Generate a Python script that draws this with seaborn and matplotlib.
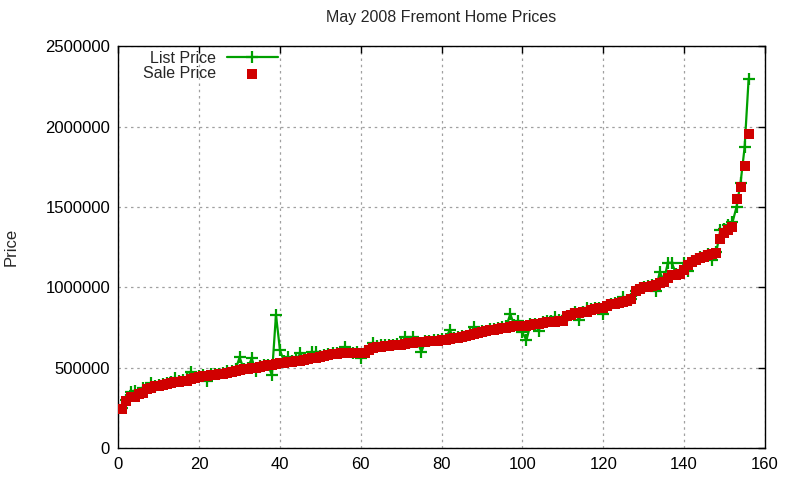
import numpy as np
import pandas as pd
import matplotlib
matplotlib.use("Agg")
import matplotlib.pyplot as plt
import seaborn as sns

# ---- data ----
sale_price = [
    244000, 294000, 320000, 322000, 335000, 345000, 366000, 372000, 385000, 388000,
    392000, 400000, 408000, 410000, 415000, 418000, 420000, 430000, 440000, 445000,
    448000, 450000, 453000, 456000, 460000, 465000, 470000, 475000, 480000, 485000,
    490000, 492000, 497000, 500000, 505000, 510000, 515000, 520000, 524000, 528000,
    532000, 535000, 538000, 542000, 545000, 550000, 555000, 560000, 563000, 570000,
    575000, 578000, 585000, 588000, 590000, 590000, 590000, 590000, 590000, 592000,
    595000, 610000, 622000, 630000, 632000, 635000, 638000, 640000, 642000, 645000,
    648000, 652000, 656000, 658000, 660000, 662000, 665000, 668000, 670000, 673000,
    676000, 680000, 683000, 685000, 690000, 698000, 705000, 712000, 718000, 722000,
    728000, 735000, 738000, 742000, 748000, 750000, 752000, 758000, 760000, 762000,
    763000, 765000, 770000, 775000, 778000, 783000, 786000, 788000, 790000, 792000,
    820000, 830000, 840000, 842000, 845000, 850000, 860000, 865000, 870000, 875000,
    885000, 895000, 900000, 905000, 910000, 915000, 925000, 975000, 990000, 1000000,
    1005000, 1010000, 1015000, 1025000, 1035000, 1060000, 1075000, 1080000, 1085000, 1110000,
    1140000, 1160000, 1170000, 1185000, 1190000, 1200000, 1205000, 1215000, 1300000, 1336000,
    1356000, 1373000, 1550000, 1625000, 1755000, 1952000,
]

list_price = [
    250000, 300000, 352000, 358000, 345000, 373000, 375000, 404000, 390000, 395000,
    398000, 405000, 412000, 435000, 420000, 425000, 440000, 476000, 445000, 450000,
    455000, 420000, 460000, 462000, 465000, 470000, 478000, 480000, 490000, 565000,
    495000, 500000, 559000, 480000, 510000, 515000, 520000, 455000, 830000, 610000,
    540000, 570000, 545000, 548000, 590000, 555000, 560000, 596000, 600000, 575000,
    580000, 585000, 590000, 595000, 600000, 631000, 598000, 595000, 596000, 560000,
    600000, 615000, 652000, 635000, 640000, 640000, 645000, 645000, 648000, 650000,
    693000, 655000, 693000, 662000, 600000, 668000, 670000, 672000, 675000, 678000,
    680000, 735000, 688000, 690000, 695000, 700000, 710000, 752000, 722000, 728000,
    732000, 740000, 742000, 748000, 752000, 758000, 834000, 765000, 793000, 720000,
    673000, 770000, 775000, 730000, 785000, 790000, 792000, 817000, 795000, 798000,
    825000, 835000, 845000, 800000, 850000, 875000, 865000, 870000, 875000, 834000,
    890000, 900000, 905000, 910000, 938000, 920000, 930000, 980000, 995000, 1005000,
    1010000, 1015000, 980000, 1097000, 1040000, 1153000, 1153000, 1085000, 1090000, 1153000,
    1100000, 1165000, 1175000, 1190000, 1195000, 1205000, 1170000, 1220000, 1356000, 1366000,
    1390000, 1404000, 1500000, 1650000, 1870000, 2298000,
]

house_index = list(range(1, len(sale_price) + 1))

df = pd.DataFrame({"index": house_index, "list": list_price, "sale": sale_price})

# ---- style ----
sns.set_theme(style="white")
plt.rcParams["font.family"] = ["Liberation Sans", "DejaVu Sans"]
plt.rcParams["font.size"] = 9

green = "#00a000"
red = "#d00000"

fig = plt.figure(figsize=(8, 4.8), dpi=100)
ax = fig.add_axes([0.148, 0.066, 0.808, 0.838])

sns.lineplot(data=df, x="index", y="list", ax=ax, color=green, linewidth=1.6,
             marker="+", markersize=8, markeredgewidth=1.6, markeredgecolor=green,
             label="List Price", zorder=2)
sns.scatterplot(data=df, x="index", y="sale", ax=ax, color=red, marker="s",
                s=50, linewidth=0, label="Sale Price", zorder=3)

ax.set_xlim(0, 160)
ax.set_ylim(0, 2500000)
ax.set_xticks(np.arange(0, 161, 20))
ax.set_yticks(np.arange(0, 2500001, 500000))
ax.yaxis.set_major_formatter(matplotlib.ticker.FuncFormatter(lambda v, p: f"{int(v)}"))

ax.grid(True, color="#a0a0a0", linestyle=(0, (2, 3)), linewidth=0.9)
for s in ax.spines.values():
    s.set_color("black")
    s.set_linewidth(1.0)
ax.tick_params(direction="in", length=5, width=1, colors="black",
               top=True, right=True, labelsize=12, pad=6)
for lbl in ax.get_xticklabels() + ax.get_yticklabels():
    lbl.set_color("black")

ax.set_xlabel("")
ax.set_ylabel("Price", fontsize=12, labelpad=19)
ax.set_title("May 2008 Fremont Home Prices", fontsize=11.5, pad=17)

leg = ax.legend(loc="upper left", frameon=False,
                markerfirst=False, fontsize=11.5, handlelength=3.2,
                borderaxespad=0.3, labelspacing=0.0, handletextpad=0.7,
                borderpad=0.0)
leg.set_bbox_to_anchor((0.03, 1.0), transform=ax.transAxes)

fig.savefig("out.png", dpi=100, facecolor="white")
